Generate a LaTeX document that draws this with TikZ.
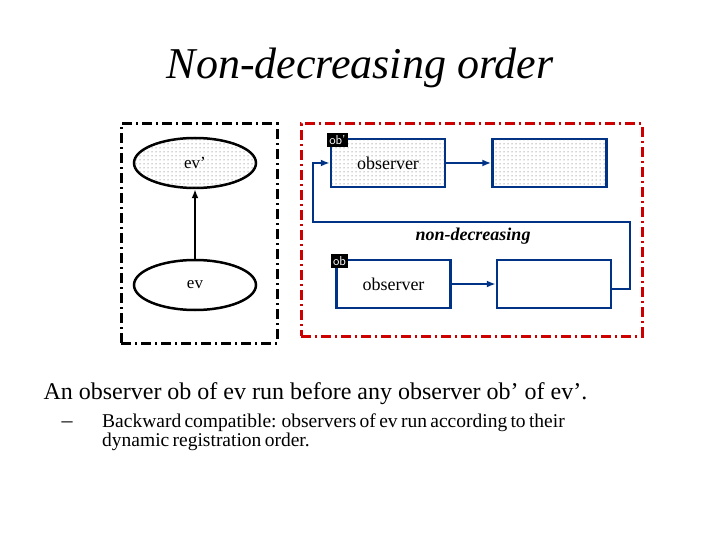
\documentclass[tikz,border=0pt]{standalone}
\usepackage{fontspec}
\setmainfont{Liberation Serif}
\usetikzlibrary{patterns,arrows.meta,shapes.geometric}
\pgfdeclarepatternformonly{sparsedots}{\pgfqpoint{-1pt}{-1pt}}{\pgfqpoint{3pt}{3pt}}{\pgfqpoint{4pt}{4pt}}{\pgfpathcircle{\pgfqpoint{0pt}{0pt}}{0.5pt}\pgfusepath{fill}}
\begin{document}
\begin{tikzpicture}[x=1pt,y=-1pt,
  obs/.style={draw=blue!40!black!80!cyan, line width=2.5pt, minimum width=114pt, minimum height=48pt, inner sep=0},
  dotf/.style={postaction={pattern=sparsedots, pattern color=black!70}},
  lbl/.style={fill=black, text=white, font=\sffamily\fontsize{13}{13}\selectfont, inner sep=2pt},
  blarr/.style={draw=blue!40!black!80!cyan, line width=2.5pt, -{Latex[length=9pt,width=7pt]}},
  ell/.style={draw, line width=2.5pt, ellipse, minimum width=122pt, minimum height=50pt}]
\useasboundingbox (0,0) rectangle (720,540);
\node (title) at (360,68) {\fontsize{44}{44}\selectfont\itshape Non-decreasing order};
\node (lf) [draw, line width=3pt, dash pattern=on 10pt off 4pt on 2pt off 4pt, minimum width=156pt, minimum height=219pt] at (199,233.5) {};
\node (rf) [draw=red!80!black, line width=3pt, dash pattern=on 10pt off 4pt on 2pt off 4pt, minimum width=341pt, minimum height=212pt] at (471.5,230) {};
\node (evp) [ell, fill=white, dotf] at (195,163) {\fontsize{17}{17}\selectfont ev’};
\node (ev) [ell] at (195,285) {\fontsize{17}{17}\selectfont ev};
\draw[line width=2pt, -{Latex[length=9pt,width=7pt]}] (ev) -- (evp);
\node (o1) [obs, fill=white, dotf] at (388,163) {\fontsize{18}{18}\selectfont observer};
\node (b1) [obs, fill=white, dotf] at (549.5,163) {};
\node (o2) [obs] at (393.5,284) {\fontsize{18}{18}\selectfont observer};
\node (b2) [obs] at (554,284) {};
\node (l1) [lbl] at (337.5,140) {ob’};
\node (l2) [lbl] at (339.5,261) {ob};
\draw[blarr] (o1) -- (b1);
\draw[blarr] (o2) -- (b2);
\coordinate (c1) at (630,289);
\coordinate (c2) at (630,222);
\coordinate (c3) at (313,222);
\coordinate (c4) at (313,163);
\draw[blarr] (b2.east |- c1) -- (c1) -- (c2) -- (c3) -- (c4) -- (o1.west);
\node (nd) at (473,236) {\fontsize{18}{18}\selectfont\bfseries\itshape non-decreasing};
\node (t1) [anchor=west] at (40,394) {\fontsize{24}{24}\selectfont An observer ob of ev run before any observer ob’ of ev’.};
\node (d) [anchor=west] at (58,425) {\fontsize{22}{22}\selectfont –};
\node (t2) [anchor=north west, align=left, text width=520pt, inner sep=0] at (102,414) {\fontsize{19.5}{22}\selectfont Backward compatible: observers of ev run according to their\\ dynamic registration order.};
\end{tikzpicture}
\end{document}
